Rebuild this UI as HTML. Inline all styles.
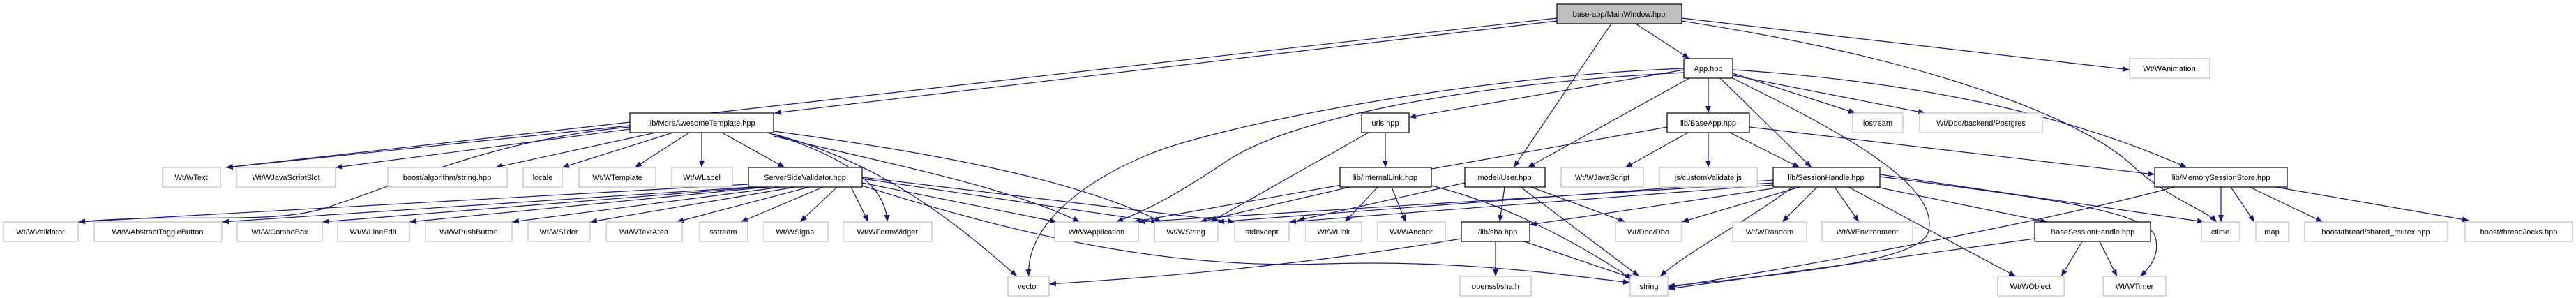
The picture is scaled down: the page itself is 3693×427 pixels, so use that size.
<!DOCTYPE html>
<html><head><meta charset="utf-8"><style>
html,body{margin:0;padding:0;background:#fff;}
svg{display:block;}
text{font-family:"Liberation Sans",sans-serif;font-size:11px;fill:#000;text-anchor:middle;}
.g{fill:#fff;stroke:#bfbfbf;stroke-width:1.2;}
.b{fill:#fff;stroke:#000;stroke-width:1.2;}
.e{fill:none;stroke:#191970;stroke-width:1.2;marker-end:url(#a);}
</style></head><body>
<svg width="3693" height="427" viewBox="0 0 3693 427" xmlns="http://www.w3.org/2000/svg">
<defs><marker id="a" markerUnits="userSpaceOnUse" markerWidth="10" markerHeight="8" refX="10" refY="4" orient="auto"><path d="M0,0 L10,4 L0,8 z" fill="#191970"/></marker></defs>

<!-- edges -->
<g>
<!-- MainWindow -->
<path class="e" d="M2232,30 L1110,162"/>
<path class="e" d="M2232,26 L324,240"/>
<path class="e" d="M2345,34 L2422,84"/>
<path class="e" d="M2310,34 L2170,240"/>
<path class="e" d="M2411,26 L3053,100"/>
<path class="e" d="M2411,30 C2800,90 3000,180 3060,240 C3110,285 3160,300 3178,318"/>
<!-- App -->
<path class="e" d="M2449,112 L2449,162"/>
<path class="e" d="M2484,105 L2660,162"/>
<path class="e" d="M2484,108 L2760,162"/>
<path class="e" d="M2484,100 C2800,120 3000,180 3135,240"/>
<path class="e" d="M2466,112 L2597,240"/>
<path class="e" d="M2484,112 C2620,180 2780,260 2765,330 C2760,370 2600,390 2391,410"/>
<path class="e" d="M2414,100 L2020,168"/>
<path class="e" d="M2422,112 L2190,240"/>
<path class="e" d="M2414,104 C2100,120 1850,170 1760,230 C1700,270 1650,300 1600,318"/>
<path class="e" d="M2414,98 C2100,110 1750,180 1650,220 C1540,265 1470,330 1475,396"/>
<!-- BaseApp -->
<path class="e" d="M2420,190 L2330,240"/>
<path class="e" d="M2449,190 L2449,240"/>
<path class="e" d="M2480,190 L2580,240"/>
<path class="e" d="M2508,182 L3089,250"/>
<path class="e" d="M2390,182 L1625,318"/>
<!-- SessionHandle -->
<path class="e" d="M2605,268 L2555,318"/>
<path class="e" d="M2630,268 L2665,318"/>
<path class="e" d="M2650,268 L2890,396"/>
<path class="e" d="M2690,268 L2935,318"/>
<path class="e" d="M2695,250 L3160,318"/>
<path class="e" d="M2695,253 C2900,280 3080,300 3090,340 C3098,370 3075,390 3068,396"/>
<path class="e" d="M2580,268 L2411,318"/>
<path class="e" d="M2570,268 C2500,320 2420,360 2380,396"/>
<path class="e" d="M2542,258 L1745,318"/>
<path class="e" d="M2542,262 L1632,318"/>
<path class="e" d="M2542,265 L1848,318"/>
<path class="e" d="M2542,270 L2193,322"/>
<!-- MSS -->
<path class="e" d="M3184,268 L3184,318"/>
<path class="e" d="M3198,268 L3232,318"/>
<path class="e" d="M3225,268 L3330,318"/>
<path class="e" d="M3262,268 L3540,316"/>
<path class="e" d="M3117,268 C3000,300 2720,360 2391,412"/>
<!-- BaseSessionHandle -->
<path class="e" d="M2985,346 L2955,396"/>
<path class="e" d="M3010,346 L3035,396"/>
<path class="e" d="M2917,342 L2391,414"/>
<!-- User -->
<path class="e" d="M2157,268 L2150,318"/>
<path class="e" d="M2180,268 L2350,396"/>
<path class="e" d="M2195,268 L2330,318"/>
<path class="e" d="M2100,262 L1860,316"/>
<!-- sha -->
<path class="e" d="M2144,346 L2144,396"/>
<path class="e" d="M2185,346 L2345,400"/>
<path class="e" d="M2095,342 C1900,375 1700,395 1504,407"/>
<!-- InternalLink -->
<path class="e" d="M1975,268 L1928,318"/>
<path class="e" d="M1995,268 L2015,318"/>
<path class="e" d="M2052,266 C2150,290 2250,340 2340,400"/>
<path class="e" d="M1935,268 L1720,318"/>
<!-- urls -->
<path class="e" d="M1986,190 L1986,240"/>
<path class="e" d="M1962,190 L1735,318"/>
<!-- ServerSideValidator -->
<path class="e" d="M1073,264 L112,318"/>
<path class="e" d="M1078,268 L318,318"/>
<path class="e" d="M1090,268 L462,318"/>
<path class="e" d="M1100,268 L587,318"/>
<path class="e" d="M1120,268 L734,318"/>
<path class="e" d="M1140,268 L846,318"/>
<path class="e" d="M1160,268 L970,318"/>
<path class="e" d="M1180,268 L1062,318"/>
<path class="e" d="M1200,268 L1147,318"/>
<path class="e" d="M1220,268 L1245,318"/>
<path class="e" d="M1236,262 L1515,318"/>
<path class="e" d="M1236,256 L1660,318"/>
<path class="e" d="M1236,254 L1770,318"/>
<path class="e" d="M1236,266 C1500,350 1700,385 1900,378 C2100,372 2250,395 2337,405"/>
<!-- MoreAwesomeTemplate -->
<path class="e" d="M903,180 L324,240"/>
<path class="e" d="M903,185 L481,240"/>
<path class="e" d="M940,190 L710,240"/>
<path class="e" d="M965,190 L806,240"/>
<path class="e" d="M988,190 L910,240"/>
<path class="e" d="M1006,190 L1006,240"/>
<path class="e" d="M1035,190 L1125,240"/>
<path class="e" d="M903,182 C700,200 560,270 460,300 C380,322 250,305 112,318"/>
<path class="e" d="M1100,190 C1200,220 1270,260 1272,318"/>
<path class="e" d="M1109,195 C1300,240 1450,270 1548,318"/>
<path class="e" d="M1109,188 C1350,220 1550,260 1665,318"/>
<path class="e" d="M1109,192 C1250,230 1350,300 1458,396"/>
</g>

<!-- nodes -->
<g>
<rect x="2232" y="6" width="179" height="28" fill="#bfbfbf" stroke="#000" stroke-width="1.2"/><text x="2321" y="24">base-app/MainWindow.hpp</text>

<rect class="b" x="2414" y="84" width="70" height="28"/><text x="2449" y="102">App.hpp</text>
<rect class="g" x="3053" y="84" width="115" height="28"/><text x="3110" y="102">Wt/WAnimation</text>

<rect class="b" x="903" y="162" width="206" height="28"/><text x="1006" y="180">lib/MoreAwesomeTemplate.hpp</text>
<rect class="b" x="1952" y="162" width="68" height="28"/><text x="1986" y="180">urls.hpp</text>
<rect class="b" x="2390" y="162" width="118" height="28"/><text x="2449" y="180">lib/BaseApp.hpp</text>
<rect class="g" x="2656" y="162" width="72" height="28"/><text x="2692" y="180">iostream</text>
<rect class="g" x="2752" y="162" width="176" height="28"/><text x="2840" y="180">Wt/Dbo/backend/Postgres</text>

<rect class="g" x="233" y="240" width="83" height="28"/><text x="274" y="258">Wt/WText</text>
<rect class="g" x="339" y="240" width="142" height="28"/><text x="410" y="258">Wt/WJavaScriptSlot</text>
<rect class="g" x="556" y="240" width="171" height="28"/><text x="641" y="258">boost/algorithm/string.hpp</text>
<rect class="g" x="750" y="240" width="56" height="28"/><text x="778" y="258">locale</text>
<rect class="g" x="830" y="240" width="110" height="28"/><text x="885" y="258">Wt/WTemplate</text>
<rect class="g" x="963" y="240" width="87" height="28"/><text x="1006" y="258">Wt/WLabel</text>
<rect class="b" x="1073" y="240" width="163" height="28"/><text x="1154" y="258">ServerSideValidator.hpp</text>
<rect class="b" x="1921" y="240" width="131" height="28"/><text x="1986" y="258">lib/InternalLink.hpp</text>
<rect class="b" x="2100" y="240" width="115" height="28"/><text x="2157" y="258">model/User.hpp</text>
<rect class="g" x="2238" y="240" width="118" height="28"/><text x="2297" y="258">Wt/WJavaScript</text>
<rect class="g" x="2379" y="240" width="140" height="28"/><text x="2449" y="258">js/customValidate.js</text>
<rect class="b" x="2542" y="240" width="153" height="28"/><text x="2618" y="258">lib/SessionHandle.hpp</text>
<rect class="b" x="3089" y="240" width="190" height="28"/><text x="3184" y="258">lib/MemorySessionStore.hpp</text>

<rect class="g" x="5" y="318" width="107" height="28"/><text x="58" y="336">Wt/WValidator</text>
<rect class="g" x="135" y="318" width="183" height="28"/><text x="226" y="336">Wt/WAbstractToggleButton</text>
<rect class="g" x="340" y="318" width="122" height="28"/><text x="401" y="336">Wt/WComboBox</text>
<rect class="g" x="484" y="318" width="103" height="28"/><text x="535" y="336">Wt/WLineEdit</text>
<rect class="g" x="610" y="318" width="124" height="28"/><text x="672" y="336">Wt/WPushButton</text>
<rect class="g" x="757" y="318" width="89" height="28"/><text x="801" y="336">Wt/WSlider</text>
<rect class="g" x="869" y="318" width="109" height="28"/><text x="923" y="336">Wt/WTextArea</text>
<rect class="g" x="1003" y="318" width="69" height="28"/><text x="1037" y="336">sstream</text>
<rect class="g" x="1095" y="318" width="92" height="28"/><text x="1141" y="336">Wt/WSignal</text>
<rect class="g" x="1209" y="318" width="127" height="28"/><text x="1272" y="336">Wt/WFormWidget</text>
<rect class="g" x="1512" y="318" width="120" height="28"/><text x="1572" y="336">Wt/WApplication</text>
<rect class="g" x="1655" y="318" width="91" height="28"/><text x="1700" y="336">Wt/WString</text>
<rect class="g" x="1770" y="318" width="78" height="28"/><text x="1809" y="336">stdexcept</text>
<rect class="g" x="1872" y="318" width="80" height="28"/><text x="1912" y="336">Wt/WLink</text>
<rect class="g" x="1975" y="318" width="97" height="28"/><text x="2023" y="336">Wt/WAnchor</text>
<rect class="b" x="2095" y="318" width="98" height="28"/><text x="2144" y="336">../lib/sha.hpp</text>
<rect class="g" x="2316" y="318" width="95" height="28"/><text x="2363" y="336">Wt/Dbo/Dbo</text>
<rect class="g" x="2484" y="318" width="106" height="28"/><text x="2537" y="336">Wt/WRandom</text>
<rect class="g" x="2612" y="318" width="130" height="28"/><text x="2677" y="336">Wt/WEnvironment</text>
<rect class="b" x="2917" y="318" width="166" height="28"/><text x="3000" y="336">BaseSessionHandle.hpp</text>
<rect class="g" x="3156" y="318" width="55" height="28"/><text x="3183" y="336">ctime</text>
<rect class="g" x="3234" y="318" width="47" height="28"/><text x="3257" y="336">map</text>
<rect class="g" x="3304" y="318" width="205" height="28"/><text x="3406" y="336">boost/thread/shared_mutex.hpp</text>
<rect class="g" x="3534" y="318" width="154" height="28"/><text x="3611" y="336">boost/thread/locks.hpp</text>

<rect class="g" x="1445" y="396" width="59" height="28"/><text x="1474" y="414">vector</text>
<rect class="g" x="2093" y="396" width="102" height="28"/><text x="2144" y="414">openssl/sha.h</text>
<rect class="g" x="2337" y="396" width="54" height="28"/><text x="2364" y="414">string</text>
<rect class="g" x="2864" y="396" width="95" height="28"/><text x="2911" y="414">Wt/WObject</text>
<rect class="g" x="3015" y="396" width="90" height="28"/><text x="3060" y="414">Wt/WTimer</text>
</g>
</svg>
</body></html>
